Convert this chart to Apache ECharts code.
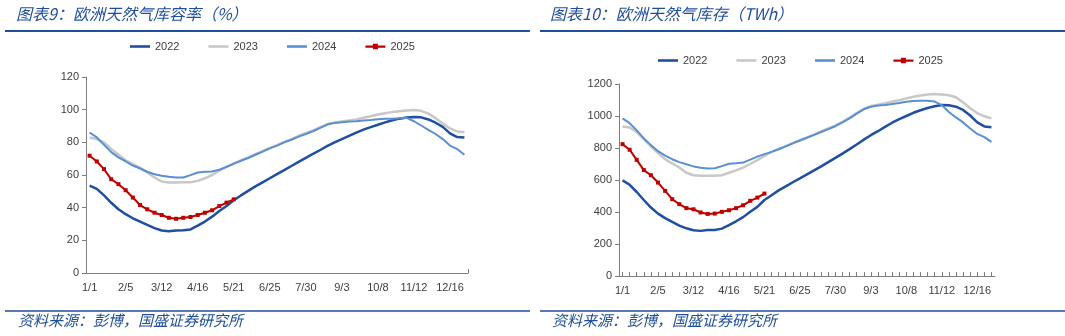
<!DOCTYPE html>
<html>
<head>
<meta charset="utf-8">
<script src="https://cdn.jsdelivr.net/npm/echarts@6/dist/echarts.min.js"></script>
<style>
  html, body { margin: 0; padding: 0; background: #ffffff; }
  #chart { width: 1065px; height: 336px; }
</style>
</head>
<body>
<div id="chart"></div>
<script>
// Weekly dates (month/day) shared by both panels
const weeks = [
  '1/1','1/8','1/15','1/22','1/29','2/5','2/12','2/19','2/26','3/5',
  '3/12','3/19','3/26','4/2','4/9','4/16','4/23','4/30','5/7','5/14',
  '5/21','5/28','6/4','6/11','6/18','6/25','7/2','7/9','7/16','7/23',
  '7/30','8/6','8/13','8/20','8/27','9/3','9/10','9/17','9/24','10/1',
  '10/8','10/15','10/22','10/29','11/5','11/12','11/19','11/26','12/2','12/9',
  '12/16','12/23','12/30'
];
const seriesNames = ['2022', '2023', '2024', '2025'];

// Storage fill rate (%)
const rate2022 = [
  53.5, 51.5, 47.5, 43, 39, 36, 33.5, 31.5, 29.5, 27.5,
  26, 25.5, 26, 26.2, 26.7, 29, 31.5, 34.5, 38, 41,
  44.5, 47.5, 50.3, 53, 55.5, 58, 60.5, 63, 65.5, 68,
  70.5, 73, 75.3, 77.8, 80, 82, 84, 86, 87.8, 89.3,
  90.8, 92.2, 93.5, 94.5, 95.2, 95.5, 95.3, 94, 92, 89.5,
  85.5, 83.2, 83
];
const rate2023 = [
  83, 82, 80, 76, 72.5, 69, 66.7, 64.5, 61.5, 58.5,
  56, 55.4, 55.4, 55.5, 55.6, 56.4, 58, 60, 62.6, 65,
  67, 69, 70.7, 72.7, 74.6, 76.6, 78.3, 80.3, 82, 84,
  85.6, 87.3, 89.3, 91.2, 92.2, 92.8, 93.4, 94, 95, 96,
  97, 97.8, 98.5, 99, 99.5, 99.8, 99.3, 97.6, 94.8, 91.5,
  88.5, 86.7, 86.2
];
const rate2024 = [
  86, 83, 78.5, 74, 70.8, 68.3, 65.8, 64, 62, 60.5,
  59.5, 58.9, 58.5, 58.5, 59.9, 61.5, 62, 62.2, 63.2, 65,
  67, 68.7, 70.4, 72.4, 74.3, 76.3, 78, 80, 81.6, 83.5,
  85.1, 86.8, 88.8, 90.9, 91.9, 92.3, 92.7, 92.9, 93.3, 93.7,
  94.2, 94.4, 94.4, 94.8, 95, 92.9, 90.3, 87.6, 85.1, 82,
  78, 75.9, 72.4
];
const rate2025 = [
  71.8, 68.3, 63.6, 57.4, 54.4, 50.7, 46.2, 41.6, 39, 36.9,
  35.5, 33.8, 33.2, 33.8, 34.3, 35.5, 36.9, 38.4, 41, 43.1,
  45.1
];

// Storage volume (TWh)
const twh2022 = [
  598, 570, 525, 475, 428, 390, 362, 338, 315, 298,
  286, 282, 287, 288, 296, 318, 342, 368, 402, 432,
  475, 505, 535, 560, 586, 610, 635, 660, 685, 712,
  738, 765, 793, 822, 852, 880, 905, 932, 958, 980,
  1000, 1020, 1036, 1050, 1061, 1069, 1067, 1058, 1038, 1003,
  960, 935, 930
];
const twh2023 = [
  935, 928, 900, 855, 810, 768, 730, 703, 678, 645,
  630, 626, 626, 626, 630, 645, 660, 677, 700, 724,
  750, 776, 795, 812, 831, 849, 866, 884, 903, 922,
  941, 964, 990, 1018, 1045, 1062, 1070, 1080, 1090, 1098,
  1110, 1120, 1128, 1134, 1137, 1134, 1130, 1117, 1085, 1048,
  1018, 998, 985
];
const twh2024 = [
  985, 955, 910, 860, 818, 780, 752, 730, 712, 698,
  685, 677, 672, 673, 687, 702, 705, 709, 727, 746,
  762, 776, 792, 810, 829, 847, 864, 882, 900, 918,
  936, 960, 985, 1015, 1042, 1058, 1065, 1069, 1075, 1081,
  1089, 1093, 1096, 1096, 1090, 1068, 1025, 991, 960, 922,
  888, 868, 838
];
const twh2025 = [
  824, 789, 726, 662, 630, 584, 532, 480, 449, 424,
  417, 397, 388, 390, 401, 411, 424, 442, 470, 490,
  515
];

const BLUE_TEXT = '#1f4e9c';
const colors = ['#1f4ea3', '#c8c8c8', '#5b8fd3', '#c00000'];
const labelFont = 'Liberation Sans, Arial, sans-serif';
const cjkFont = 'Noto Sans CJK SC, sans-serif';

// Legend glyphs: a plain stroke, or a stroke with a square marker for the current year
const ICON_LINE = 'path://M0,3 H20 V5.6 H0 Z';
const ICON_MARKED = 'path://M0,3.2 H7.5 V1.5 H12.5 V3.2 H20 V5.4 H12.5 V7 H7.5 V5.4 H0 Z';

function lineSeries(name, data, axisIdx) {
  const i = seriesNames.indexOf(name);
  const isCurrent = name === '2025';
  return {
    name: name,
    type: 'line',
    xAxisIndex: axisIdx,
    yAxisIndex: axisIdx,
    data: data,
    smooth: false,
    showSymbol: isCurrent,
    symbol: isCurrent ? 'rect' : 'none',
    symbolSize: 4,
    itemStyle: { color: colors[i] },
    lineStyle: { color: colors[i], width: name === '2024' ? 2 : (isCurrent ? 2 : 2.5) },
    z: 2 + i,
    emphasis: { disabled: true },
    animation: false
  };
}

function xAxis(gridIndex, tickFn, alignTicks) {
  return {
    type: 'category',
    gridIndex: gridIndex,
    data: weeks,
    boundaryGap: true,
    axisLine: { lineStyle: { color: '#7f7f7f', width: 1 } },
    axisTick: {
      show: true,
      inside: true,
      length: 4,
      alignWithLabel: alignTicks,
      interval: tickFn,
      lineStyle: { color: '#7f7f7f' }
    },
    axisLabel: {
      interval: 4,
      color: '#404040',
      fontSize: 11,
      fontFamily: labelFont,
      margin: 9
    },
    splitLine: { show: false }
  };
}

function yAxis(gridIndex, max, step) {
  return {
    type: 'value',
    gridIndex: gridIndex,
    min: 0,
    max: max,
    interval: step,
    axisLine: { show: true, lineStyle: { color: '#7f7f7f', width: 1 } },
    axisTick: { show: true, length: 4, lineStyle: { color: '#7f7f7f' } },
    axisLabel: {
      color: '#404040', fontSize: 11, fontFamily: labelFont, margin: 7,
      formatter: (v) => String(v)
    },
    splitLine: { show: false }
  };
}

function legend(left, top) {
  return {
    left: left,
    top: top,
    itemWidth: 20,
    itemHeight: 8,
    itemGap: 29,
    data: seriesNames.map(n => ({ name: n, icon: n === '2025' ? ICON_MARKED : ICON_LINE })),
    textStyle: { color: '#404040', fontSize: 11, fontFamily: labelFont },
    selectedMode: false
  };
}

function header(x, lineX0, lineX1, title) {
  return [
    {
      type: 'text', left: x, top: 6,
      style: { text: title, fill: BLUE_TEXT, font: 'italic 16px ' + cjkFont }
    },
    {
      type: 'line',
      shape: { x1: lineX0, y1: 31, x2: lineX1, y2: 31 },
      style: { stroke: BLUE_TEXT, lineWidth: 2.2 }
    },
    {
      type: 'line',
      shape: { x1: lineX0, y1: 311, x2: lineX1, y2: 311 },
      style: { stroke: BLUE_TEXT, lineWidth: 1.6 }
    },
    {
      type: 'text', left: x + 2, top: 313,
      style: { text: '资料来源：彭博，国盛证券研究所', fill: BLUE_TEXT, font: 'italic 15px ' + cjkFont }
    }
  ];
}

const chart = echarts.init(document.getElementById('chart'), null, { renderer: 'canvas' });

chart.setOption({
  backgroundColor: '#ffffff',
  animation: false,
  grid: [
    { left: 86, right: 597, top: 77, bottom: 63 },
    { left: 619, right: 70, top: 84, bottom: 60 }
  ],
  legend: [
    legend(125, 36),
    legend(653, 50)
  ],
  xAxis: [
    xAxis(0, (idx) => idx === 30, false),
    xAxis(1, () => true, true)
  ],
  yAxis: [
    yAxis(0, 120, 20),
    yAxis(1, 1200, 200)
  ],
  series: [
    lineSeries('2022', rate2022, 0),
    lineSeries('2023', rate2023, 0),
    lineSeries('2024', rate2024, 0),
    lineSeries('2025', rate2025, 0),
    lineSeries('2022', twh2022, 1),
    lineSeries('2023', twh2023, 1),
    lineSeries('2024', twh2024, 1),
    lineSeries('2025', twh2025, 1)
  ],
  graphic: [
    ...header(16, 5, 530, '图表9：欧洲天然气库容率（%）'),
    ...header(550, 540, 1065, '图表10：欧洲天然气库存（TWh）')
  ]
});
</script>
</body>
</html>
